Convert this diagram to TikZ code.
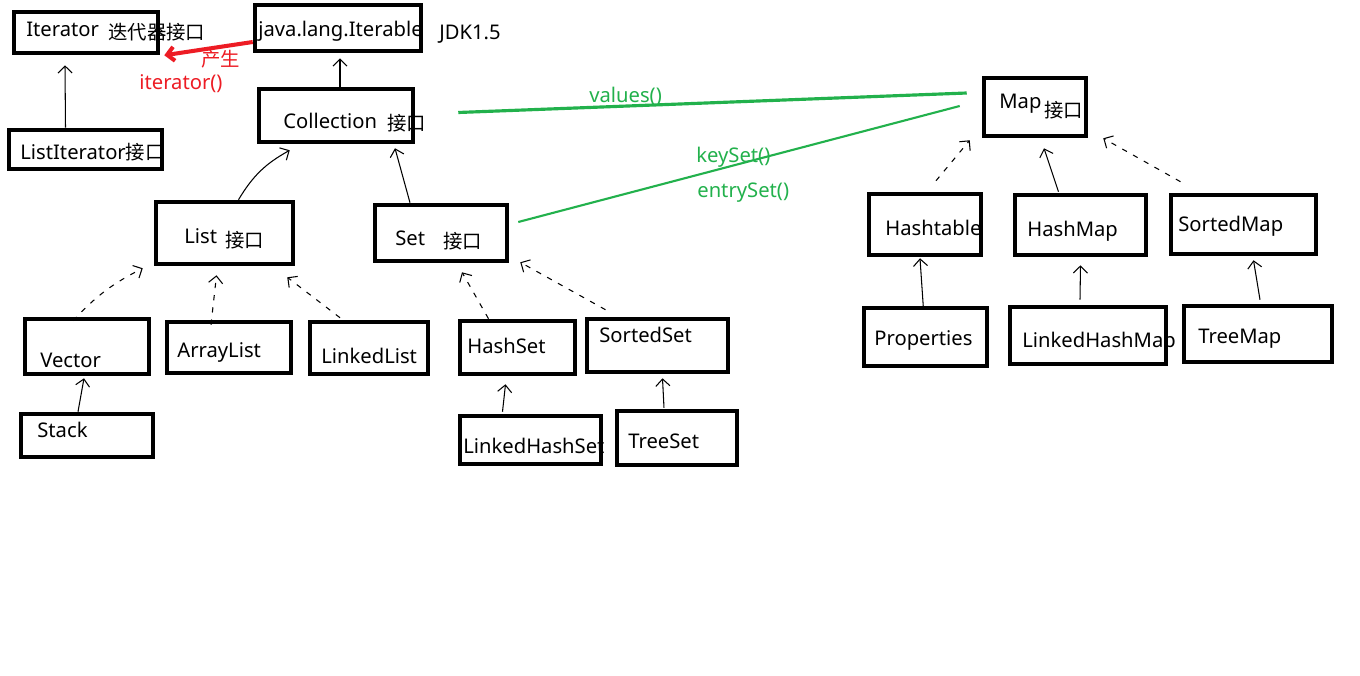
\documentclass[tikz,border=0pt]{standalone}
\usepackage{fontspec}
\setmainfont{Noto Sans}
\newfontfamily\cjk{Noto Sans CJK SC}[Scale=0.96]
\usepackage{tikz}
\usetikzlibrary{calc}
\usetikzlibrary{arrows.meta}
\definecolor{paintgreen}{RGB}{34,177,76}
\definecolor{paintred}{RGB}{237,28,36}
\tikzset{
  box/.style={draw, rectangle, line width=2.6pt},
  txt/.style={inner sep=0pt, anchor=base west, font=\fontsize{11.5}{13}\selectfont},
  inh/.style={->, line width=0.6pt},
  impl/.style={->, line width=0.6pt, dash pattern=on 3pt off 4pt},
}

\begin{document}
\begin{tikzpicture}[x=0.02cm, y=-0.02cm, >={Straight Barb[length=4pt,width=8pt]}]
  \path[fill=white] (0,0) rectangle (1360,676);
  \useasboundingbox (0,0) rectangle (1360,676);

  \node[txt] (iterT) at (26,36) {Iterator};
  \node[txt] (iterC) at (108,39) {\cjk 迭代器接口};
  \node[txt] (iterableT) at (258,36) {java.lang.Iterable};
  \node[txt] (jdk) at (439,39) {JDK1.5};
  \node[txt, text=paintred] (makeT) at (201,66) {\cjk 产生};
  \node[txt, text=paintred] (iterm) at (139,89) {iterator()};
  \node[txt] (collT) at (283,128) {Collection};
  \node[txt] (collC) at (387,130) {\cjk 接口};
  \node[txt] (listiterT) at (20,159) {ListIterator{\cjk 接口}};
  \node[txt] (listT) at (184,243) {List};
  \node[txt] (listC) at (225,247) {\cjk 接口};
  \node[txt] (setT) at (395,245) {Set};
  \node[txt] (setC) at (443,248) {\cjk 接口};
  \node[txt] (vectorT) at (40,367) {Vector};
  \node[txt] (arraylistT) at (177,357) {ArrayList};
  \node[txt] (linkedlistT) at (321,363) {LinkedList};
  \node[txt] (stackT) at (37,437) {Stack};
  \node[txt] (hashsetT) at (467,353) {HashSet};
  \node[txt] (sortedsetT) at (599,342) {SortedSet};
  \node[txt] (linkedhashsetT) at (463,453) {LinkedHashSet};
  \node[txt] (treesetT) at (628,448) {TreeSet};
  \node[txt, text=paintgreen] (valuesT) at (589,102) {values()};
  \node[txt, text=paintgreen] (keysetT) at (696,162) {keySet()};
  \node[txt, text=paintgreen] (entrysetT) at (697,197) {entrySet()};
  \node[txt] (mapT) at (999,108) {Map};
  \node[txt] (mapC) at (1044,117) {\cjk 接口};
  \node[txt] (hashtableT) at (885,235) {Hashtable};
  \node[txt] (hashmapT) at (1027,236) {HashMap};
  \node[txt] (sortedmapT) at (1178,231) {SortedMap};
  \node[txt] (propertiesT) at (874,345) {Properties};
  \node[txt] (linkedhashmapT) at (1022,347) {LinkedHashMap};
  \node[txt] (treemapT) at (1198,343) {TreeMap};

  \node[box, minimum width=2.88cm, minimum height=0.82cm] (iter) at (86,32.5) {};
  \node[box, minimum width=3.32cm, minimum height=0.92cm] (iterable) at (338,28) {};
  \node[box, minimum width=3.08cm, minimum height=1.06cm] (coll) at (336,115.5) {};
  \node[box, minimum width=3.06cm, minimum height=0.78cm] (listiter) at (85.5,149.5) {};
  \node[box, minimum width=2.74cm, minimum height=1.24cm] (list) at (224.5,233) {};
  \node[box, minimum width=2.64cm, minimum height=1.12cm] (set) at (441,233) {};
  \node[box, minimum width=2.48cm, minimum height=1.10cm] (vector) at (87,346.5) {};
  \node[box, minimum width=2.48cm, minimum height=1.02cm] (arraylist) at (229,347.5) {};
  \node[box, minimum width=2.36cm, minimum height=1.04cm] (linkedlist) at (369,348) {};
  \node[box, minimum width=2.64cm, minimum height=0.86cm] (stack) at (87,435.5) {};
  \node[box, minimum width=2.30cm, minimum height=1.06cm] (hashset) at (517.5,347.5) {};
  \node[box, minimum width=2.82cm, minimum height=1.06cm] (sortedset) at (657.5,345.5) {};
  \node[box, minimum width=2.82cm, minimum height=0.96cm] (linkedhashset) at (530.5,440) {};
  \node[box, minimum width=2.40cm, minimum height=1.08cm] (treeset) at (677,438) {};
  \node[box, minimum width=2.04cm, minimum height=1.16cm] (map) at (1035,107) {};
  \node[box, minimum width=2.24cm, minimum height=1.22cm] (hashtable) at (925,224.5) {};
  \node[box, minimum width=2.62cm, minimum height=1.20cm] (hashmap) at (1080.5,225) {};
  \node[box, minimum width=2.90cm, minimum height=1.18cm] (sortedmap) at (1243.5,224.5) {};
  \node[box, minimum width=2.46cm, minimum height=1.16cm] (properties) at (925.5,337) {};
  \node[box, minimum width=3.12cm, minimum height=1.14cm] (linkedhashmap) at (1088,335.5) {};
  \node[box, minimum width=2.96cm, minimum height=1.12cm] (treemap) at (1258,334) {};

  \draw[inh] ($(listiter.north)+(-20,0)$) -- ($(iter.south)+(-21,10)$);
  \draw[->, paintred, line width=2.3pt] ($(iterable.west)+(0,14)$) -- ($(iter.south east)+(4,0)$);
  \draw[inh] ($(coll.north)+(4,0)$) -- ($(iterable.south)+(2,5)$);
  \draw[inh] ($(list.north)+(14,0)$) to[bend left=15] ($(coll.south west)+(33,6)$);
  \draw[inh] ($(set.north)+(-31,0)$) -- ($(coll.south)+(59,4)$);

  \draw[impl] ($(vector.north)+(-14,4)$) to[bend left=10] ($(list.south west)+(-11,2)$);
  \draw[impl] ($(arraylist.north)+(-18,5)$) -- ($(list.south)+(-8,9)$);
  \draw[impl] ($(linkedlist.north)+(-29,-2)$) -- ($(list.south east)+(-8,11)$);
  \draw[inh] ($(stack.north)+(-9,0)$) -- ($(vector.south)+(-3,2)$);
  \draw[impl] ($(hashset.north)+(-29,0)$) -- ($(set.south)+(21,9)$);
  \draw[impl] ($(sortedset.north)+(-52,-7)$) -- ($(set.south east)+(11,-1)$);
  \draw[inh] ($(linkedhashset.north)+(-28,-2)$) -- ($(hashset.south)+(-12,8)$);
  \draw[inh] ($(treeset.north)+(-13,-1)$) -- ($(sortedset.south)+(5,4)$);

  \draw[paintgreen, line width=1.8pt] ($(coll.east)+(43,-3)$) -- ($(map.west)+(-15,-14)$);
  \draw[paintgreen, line width=1.2pt] ($(set.east)+(9,-11)$) -- ($(map.west)+(-22,-1)$);

  \draw[impl] ($(hashtable.north)+(11,-11)$) -- ($(map.south west)+(-12,2)$);
  \draw[inh] ($(hashmap.north)+(-22,-1)$) -- ($(map.south)+(9,10)$);
  \draw[impl] ($(sortedmap.north)+(-63,-11)$) -- ($(map.south east)+(15,0)$);
  \draw[inh] ($(properties.north)+(-2,4)$) -- ($(hashtable.south)+(-5,1)$);
  \draw[inh] ($(linkedhashmap.north)+(-8,-5)$) -- ($(hashmap.south)+(0,8)$);
  \draw[inh] ($(treemap.north)+(2,-4)$) -- ($(sortedmap.south)+(10,4)$);
\end{tikzpicture}
\end{document}
